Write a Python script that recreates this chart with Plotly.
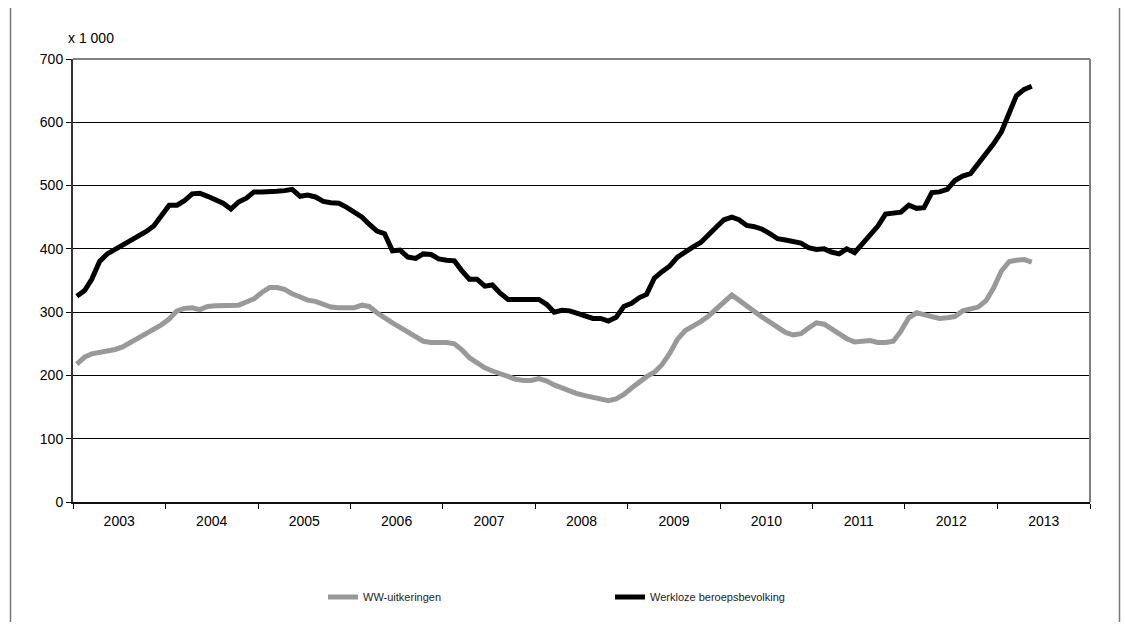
import pandas as pd
import plotly.graph_objects as go

# Monthly data, Jan 2003 - May 2013 (x 1 000)
start_month = "2003-01-01"
n_months = 125

ww_uitkeringen = [
    218, 229, 234, 236, 239, 241, 245, 252, 259, 264, 272, 280,   # 2003
    289, 302, 306, 307, 304, 309, 310, 311, 311, 311, 316, 321,   # 2004
    331, 339, 339, 336, 329, 324, 319, 317, 312, 308, 307, 307,   # 2005
    307, 311, 309, 299, 290, 283, 276, 269, 262, 254, 252, 252,   # 2006
    252, 250, 241, 228, 220, 212, 207, 203, 197, 194, 192, 192,   # 2007
    195, 191, 185, 180, 175, 171, 168, 165, 162, 160, 163, 170,   # 2008
    180, 190, 198, 205, 217, 235, 257, 271, 277, 285, 294, 305,   # 2009
    317, 327, 319, 311, 301, 292, 284, 276, 268, 264, 266, 275,   # 2010
    283, 281, 274, 265, 258, 253, 254, 255, 252, 252, 254, 270,   # 2011
    291, 299, 296, 293, 290, 291, 293, 302, 305, 308, 318, 338,   # 2012
    365, 380, 382, 383, 379,                                      # 2013
]

werkloze_beroepsbevolking = [
    325, 334, 352, 380, 392, 399, 406, 414, 419, 427, 436, 452,   # 2003
    469, 469, 476, 487, 488, 483, 477, 472, 463, 474, 480, 490,   # 2004
    490, 490, 491, 492, 494, 483, 485, 482, 475, 473, 472, 466,   # 2005
    459, 450, 439, 428, 424, 397, 398, 387, 385, 392, 391, 384,   # 2006
    382, 381, 366, 352, 352, 341, 343, 330, 320, 320, 319, 319,   # 2007
    320, 312, 300, 303, 302, 298, 294, 290, 290, 286, 292, 309,   # 2008
    314, 323, 328, 354, 364, 373, 387, 396, 403, 410, 421, 434,   # 2009
    446, 450, 446, 437, 435, 431, 424, 416, 414, 412, 409, 402,   # 2010
    399, 400, 395, 392, 400, 394, 408, 420, 436, 455, 457, 458,   # 2011
    469, 464, 465, 489, 490, 494, 508, 515, 519, 535, 549, 566,   # 2012
    585, 614, 642, 652, 657,                                      # 2013
]

series_names = ["WW-uitkeringen", "Werkloze beroepsbevolking"]
series_colors = ["#999999", "#000000"]
y_ticks = [0, 100, 200, 300, 400, 500, 600, 700]
unit_label = "x 1 000"

months = pd.date_range(start_month, periods=n_months, freq="MS") + pd.Timedelta(days=15)

FONT = "Liberation Sans, Arial, sans-serif"

fig = go.Figure()
for name, vals, col in zip(series_names, [ww_uitkeringen, werkloze_beroepsbevolking], series_colors):
    fig.add_trace(go.Scatter(
        x=months, y=vals, name=name, mode="lines",
        line=dict(color=col, width=5),
    ))

W, H = 1125, 626
# plot area in window pixels: x 73..1090, y 59..502
L, T = 73, 59
R = W - 1090
B = H - 502
pw = W - L - R
ph = H - T - B

def px_x(px):  # window pixel -> paper
    return (px - L) / pw

def px_y(py):
    return (H - B - py) / ph

fig.update_layout(
    width=W, height=H,
    margin=dict(l=L, r=R, t=T, b=B),
    paper_bgcolor="white", plot_bgcolor="white",
    font=dict(family=FONT, size=14, color="#000000"),
    showlegend=True,
    legend=dict(
        orientation="h", x=px_x(323), xanchor="left", y=px_y(597), yanchor="middle",
        font=dict(family=FONT, size=11, color="#222222"),
        entrywidth=242, entrywidthmode="pixels",
        bgcolor="rgba(0,0,0,0)",
    ),
    xaxis=dict(
        type="date",
        range=["2003-01-01", "2014-01-01"],
        dtick="M12", tick0="2003-01-01",
        ticklabelmode="period", tickformat="%Y",
        ticks="outside", ticklen=5, tickcolor="#000000", tickwidth=1,
        showgrid=False, zeroline=False,
        showline=True, linecolor="#111111", linewidth=2,
        tickfont=dict(family=FONT, size=14, color="#000000"),
    ),
    yaxis=dict(
        range=[0, 700], tickvals=y_ticks,
        ticks="outside", ticklen=5, tickcolor="#000000", tickwidth=1,
        showgrid=True, gridcolor="#000000", gridwidth=1,
        zeroline=False,
        showline=True, linecolor="#333333", linewidth=2,
        tickfont=dict(family=FONT, size=14, color="#000000"),
    ),
    annotations=[dict(
        text=unit_label, xref="paper", yref="paper",
        x=px_x(66), y=px_y(38), xanchor="left", yanchor="middle",
        showarrow=False, font=dict(family=FONT, size=14, color="#000000"),
    )],
    shapes=[
        # plot frame top and right (grey)
        dict(type="line", xref="paper", yref="paper", x0=0, x1=1, y0=1, y1=1,
             line=dict(color="#808080", width=2)),
        dict(type="line", xref="paper", yref="paper", x0=1, x1=1, y0=0, y1=1,
             line=dict(color="#808080", width=2)),
        # outer box sides
        dict(type="line", xref="paper", yref="paper", x0=px_x(10.5), x1=px_x(10.5),
             y0=px_y(8), y1=px_y(622), line=dict(color="#777777", width=1.5)),
        dict(type="line", xref="paper", yref="paper", x0=px_x(1119.5), x1=px_x(1119.5),
             y0=px_y(8), y1=px_y(622), line=dict(color="#777777", width=1.5)),
    ],
)

fig.write_html(
    "out.html",
    config={"displayModeBar": False},
    post_script="document.documentElement.style.overflow='hidden';"
                "document.body.style.margin='0px';document.body.style.overflow='hidden';",
)
